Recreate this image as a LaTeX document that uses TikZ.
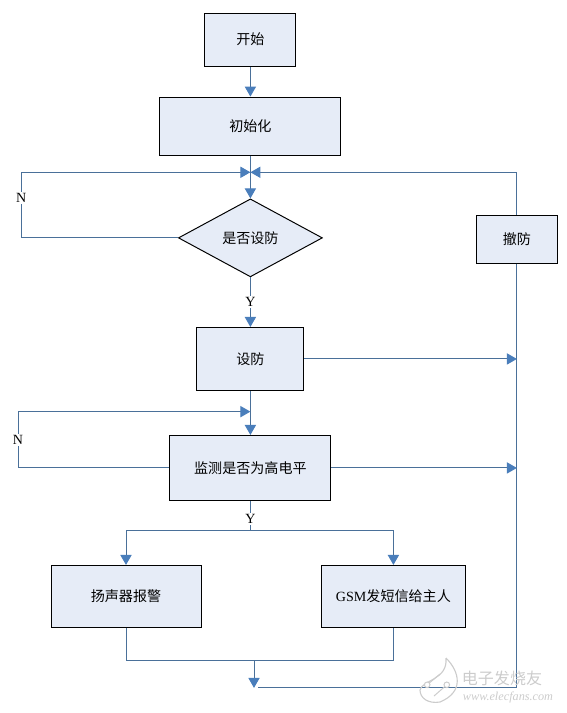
\documentclass[tikz,border=0pt]{standalone}
\usepackage{fontspec}
\setmainfont{Liberation Serif}
\newfontfamily\cjk{Noto Sans CJK SC}
\usetikzlibrary{positioning,calc,arrows.meta,shapes.geometric}
\definecolor{boxfill}{HTML}{E6ECF7}
\definecolor{flowline}{HTML}{4A7099}
\definecolor{tipblue}{HTML}{4A7EBB}
\definecolor{markgray}{HTML}{CCCCCC}
\tikzset{
  box/.style={draw=black,line width=0.7pt,fill=boxfill,font=\cjk\fontsize{10}{12}\selectfont,inner sep=0pt},
  decide/.style={box,diamond,aspect=1.85,minimum width=3.6cm,minimum height=1.95cm},
  flow/.style={draw=flowline,line width=0.7pt},
  flowarrow/.style={flow,-{Triangle[length=0.25cm,width=0.28cm,color=tipblue]}},
  lab/.style={fill=white,inner sep=1pt,font=\fontsize{10}{12}\selectfont}
}
\begin{document}
\begin{tikzpicture}
  \useasboundingbox (0,0) rectangle (14.175,-17.825);
  % 主流程
  \node[box,minimum width=2.275cm,minimum height=1.325cm] (start) at (6.26,-0.99) {开始};
  \node[box,below=0.75cm of start,minimum width=4.525cm,minimum height=1.45cm] (init) {初始化};
  \node[decide,below=1.07cm of init] (dec) {是否设防};
  \node[box,below=1.24cm of dec,minimum width=2.675cm,minimum height=1.575cm] (guard) {设防};
  \node[box,below=1.1cm of guard,minimum width=4.025cm,minimum height=1.625cm] (check) {监测是否为高电平};
  \node[box,below=1.6cm of check,xshift=-3.11cm,minimum width=3.75cm,minimum height=1.55cm] (alarm) {扬声器报警};
  \node[box,below=1.6cm of check,xshift=3.575cm,minimum width=3.6cm,minimum height=1.55cm] (gsm) {\rmfamily GSM{\cjk 发短信给主人}};
  \node[box,right=3.825cm of dec,yshift=-0.03cm,minimum width=2.025cm,minimum height=1.2cm] (disarm) {撤防};
  % 转折点
  \coordinate (backa) at ($(init.south)!0.39!(dec.north)$);
  \coordinate (backb) at ($(guard.south)!0.47!(check.north)$);
  \coordinate (leftb) at (0.45,0 |- backb);
  \coordinate (lefta) at (0.53,0 |- backa);
  \coordinate (split) at ($(check.south)+(0,-0.75)$);
  \coordinate (joinb) at ($(alarm.south)+(0,-0.825)$);
  \coordinate (joinm) at (6.35,0 |- joinb);
  \coordinate (endm) at ($(joinm)+(0,-0.675)$);
  \coordinate (railb) at (disarm.south |- endm);
  % 连线
  \draw[flowarrow] (start) -- (init);
  \draw[flowarrow] (init) -- (dec);
  \draw[flowarrow] (dec) -- (guard);
  \draw[flowarrow] (guard) -- (check);
  \draw[flowarrow] (dec.west) -| (lefta) -- (backa);
  \draw[flowarrow] (check.west) -| (leftb) -- (backb);
  \draw[flowarrow] (disarm.north) |- (backa);
  \draw[flow] (disarm.south) -- (railb) -- ($(endm)+(0.1,0)$);
  \draw[flowarrow] (guard.east) -- (guard.east -| disarm.south);
  \draw[flowarrow] (check.east) -- (check.east -| disarm.south);
  \draw[flow] (check.south) -- (split);
  \draw[flowarrow] (split) -| (alarm.north);
  \draw[flowarrow] (split) -| (gsm.north);
  \draw[flow] (alarm.south) |- (joinb) -| (gsm.south);
  \draw[flowarrow] (joinm) -- (endm);
  % 标记
  \node[lab] (ya) at ($(dec.south)!0.5!(guard.north)$) {Y};
  \node[lab] (yb) at ($(check.south)!0.6!(split)$) {Y};
  \node[lab] (na) at ($(lefta)+(0,-0.65)$) {N};
  \node[lab] (nb) at ($(leftb)+(0,-0.7)$) {N};
  % 水印
  \node[markgray,inner sep=0pt,font=\cjk\fontsize{11.4}{12}\selectfont] (markcn) at (12.55,-16.95) {电子发烧友};
  \node[markgray,inner sep=0pt,font=\itshape\fontsize{8.7}{10}\selectfont] (markurl) at (12.7,-17.44) {www.elecfans.com};
  \draw[markgray,line width=0.8pt] (11.15,-16.45) .. controls (11.5,-16.8) and (11.6,-17.3) .. (11.0,-17.55) .. controls (10.7,-17.6) and (10.5,-17.45) .. (10.5,-17.25) .. controls (10.55,-17.0) and (11.2,-17.0) .. (11.15,-16.45);
  \draw[markgray,line width=0.7pt] (10.68,-17.12) -- (11.0,-16.85) (11.17,-17.12) -- (10.85,-17.4);
  \draw[markgray,line width=0.7pt,fill=white] (10.68,-17.12) circle (0.07) (11.17,-17.12) circle (0.07);
\end{tikzpicture}
\end{document}
